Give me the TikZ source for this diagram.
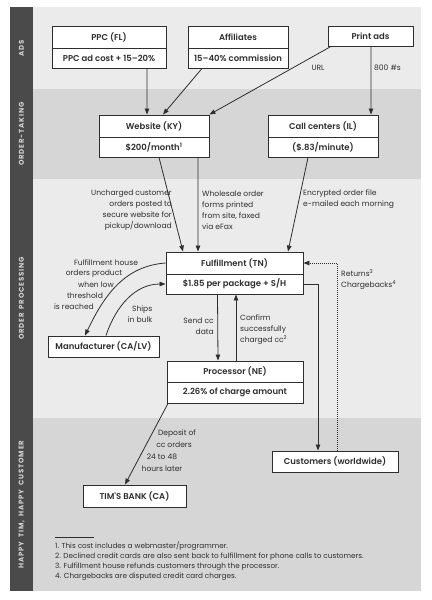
\documentclass[tikz,border=0pt]{standalone}
\usepackage{fontspec}
\setmainfont{Poppins}
\newfontfamily\boxfam{Poppins}[UprightFont={* SemiBold}]
\usetikzlibrary{arrows.meta}
\definecolor{darkband}{HTML}{4A4A4A}
\definecolor{bandlight}{HTML}{EBEBEB}
\definecolor{banddark}{HTML}{D6D6D6}
\definecolor{inkc}{HTML}{2E2E2E}
\definecolor{bandtext}{HTML}{D4D4D4}
\newcommand{\boxfont}{\boxfam\fontsize{8.5}{10}\selectfont}
\newcommand{\notefont}{\fontsize{7.6}{11.2}\selectfont}
\newcommand{\footfont}{\fontsize{7.3}{9.9}\selectfont}
\newcommand{\bandfont}{\fontsize{7}{8}\selectfont\bfseries\addfontfeature{LetterSpace=12}}
\newcommand{\bsp}{\hspace{4bp}}
\tikzset{
  box/.style={draw=inkc, fill=white, line width=0.9bp, inner sep=0pt, text=inkc, font=\boxfont},
  arr/.style={draw=inkc, line width=0.8bp, -{Triangle[length=6bp,width=4.5bp]}},
  dotarr/.style={draw=inkc, line width=0.8bp, dash pattern=on 1bp off 1bp, -{Triangle[length=6bp,width=4.5bp]}},
  note/.style={inner sep=0pt, text=inkc, font=\notefont},
  bandlabel/.style={inner sep=0pt, text=bandtext, font=\bandfont, rotate=90},
}
\begin{document}
\begin{tikzpicture}[x=1bp,y=-1bp]
\useasboundingbox (0,0) rectangle (431,600);
\fill[white] (0,0) rectangle (431,600);
% bands
\fill[bandlight] (33,7.5) rectangle (421,89);
\fill[banddark] (33,89) rectangle (421,179);
\fill[bandlight] (33,179) rectangle (421,418);
\fill[banddark] (33,418) rectangle (421,591);
\fill[darkband] (10,7.5) rectangle (33,591);
\node[bandlabel] (lads) at (21.5,48) {ADS};
\node[bandlabel] (ltake) at (21.5,134) {ORDER-TAKING};
\node[bandlabel] (lproc) at (21.5,298.5) {ORDER\bsp PROCESSING};
\node[bandlabel] (lhappy) at (21.5,504.5) {HAPPY\bsp TIM,\bsp HAPPY\bsp CUSTOMER};
% boxes
\node[box, minimum width=114bp, minimum height=22bp] (ppct) at (109,37) {PPC (FL)};
\node[box, minimum width=114bp, minimum height=20bp] (ppcb) at (109,58) {PPC ad cost + 15–20\%};
\node[box, minimum width=100bp, minimum height=22bp] (afft) at (238,37) {Affiliates};
\node[box, minimum width=100bp, minimum height=20bp] (affb) at (238,58) {15–40\% commission};
\node[box, minimum width=85bp, minimum height=20bp] (print) at (370.5,36) {Print ads};
\node[box, minimum width=110bp, minimum height=22bp] (webt) at (154,126) {Website (KY)};
\node[box, minimum width=110bp, minimum height=20bp] (webb) at (154,147) {\$200/month\textsuperscript{1}};
\node[box, minimum width=110bp, minimum height=22bp] (callt) at (323,126) {Call centers (IL)};
\node[box, minimum width=110bp, minimum height=20bp] (callb) at (323,147) {(\$.83/minute)};
\node[box, minimum width=137bp, minimum height=22bp] (fult) at (234.5,263) {Fulfillment (TN)};
\node[box, minimum width=137bp, minimum height=20bp] (fulb) at (234.5,284) {\$1.85 per package + S/H};
\node[box, minimum width=111bp, minimum height=21bp] (manu) at (103.5,346.5) {Manufacturer (CA/LV)};
\node[box, minimum width=136bp, minimum height=21bp] (proct) at (235,371.5) {Processor (NE)};
\node[box, minimum width=136bp, minimum height=21bp] (procb) at (235,392.5) {2.26\% of charge amount};
\node[box, minimum width=126bp, minimum height=21bp] (cust) at (335,461.5) {Customers (worldwide)};
\node[box, minimum width=103bp, minimum height=22bp] (bank) at (134.5,496) {TIM'S BANK (CA)};
% connectors
\draw[arr] ([xshift=38bp]ppcb.south) -- ([xshift=-7bp]webt.north);
\draw[arr] ([xshift=-36bp]affb.south) -- ([xshift=9bp]webt.north);
\draw[arr] ([xshift=-39.5bp]print.south) -- (webt.north east);
\draw[arr] ([xshift=0.5bp]print.south) -- ([xshift=48bp]callt.north);
\draw[arr] ([xshift=5bp]webb.south) -- ([xshift=-51.5bp]fult.north);
\draw[arr] ([xshift=44bp]webb.south) -- ([xshift=-36.5bp]fult.north);
\draw[arr] ([xshift=-15bp]callb.south) -- ([xshift=53.5bp]fult.north);
\draw[arr] (fult.west) .. controls +(-40,3) and +(20,-42) .. ([xshift=-18.5bp]manu.north);
\draw[arr] ([xshift=2.5bp]manu.north) .. controls +(10,-30) and +(-30,0) .. (fulb.west);
\draw[arr] ([xshift=-17bp]fulb.south) -- ([xshift=-17bp]proct.north);
\draw[arr] ([xshift=1bp]proct.north) -- ([xshift=1.5bp]fulb.south);
\draw[arr] (fulb.east) -| ([xshift=-17bp]cust.north);
\draw[dotarr] ([xshift=2bp]cust.north) |- (fult.east);
\draw[arr] ([xshift=-67bp]procb.south) -- ([xshift=-9.5bp]bank.north);
% labels
\node[note] (lurl) at (318,68) {URL};
\node[note, anchor=west] (l800) at (374,68) {800 \#s};
\node[note, anchor=east, align=right] (lunch) at (172,210.3) {Uncharged customer\\orders posted to\\secure website for\\pickup/download};
\node[note, anchor=west, align=left] (lwhole) at (202,210.3) {Wholesale order\\forms printed\\from site, faxed\\via eFax};
\node[note, anchor=west, align=left] (lenc) at (303,198.8) {Encrypted order file\\e-mailed each morning};
\node[note] (fh1) at (106,262.7) {Fulfillment house};
\node[note] (fh2) at (94,273.5) {orders product};
\node[note] (fh3) at (96,284.5) {when low};
\node[note] (fh4) at (85,295.7) {threshold};
\node[note] (fh5) at (74,306.7) {is reached};
\node[note, anchor=east, align=right] (lships) at (152.5,313.8) {Ships\\in bulk};
\node[note, anchor=east, align=right] (lsend) at (214,326.3) {Send cc\\data};
\node[note, anchor=west, align=left] (lconf) at (240,329.5) {Confirm\\successfully\\charged cc\textsuperscript{2}};
\node[note, anchor=west, align=left] (lret) at (341,279.7) {Returns\textsuperscript{3}\\Chargebacks\textsuperscript{4}};
\node[note] (dep1) at (177,433.3) {Deposit of};
\node[note] (dep2) at (174,445) {cc orders};
\node[note] (dep3) at (162,457) {24 to 48};
\node[note] (dep4) at (162,468.3) {hours later};
% footnotes
\draw[draw=inkc, line width=0.6bp] (55,537) -- (94,537);
\node[note, font=\footfont, anchor=west, align=left] (foot) at (55,561) {1. This cost includes a webmaster/programmer.\\2. Declined credit cards are also sent back to fulfillment for phone calls to customers.\\3. Fulfillment house refunds customers through the processor.\\4. Chargebacks are disputed credit card charges.};
\end{tikzpicture}
\end{document}
